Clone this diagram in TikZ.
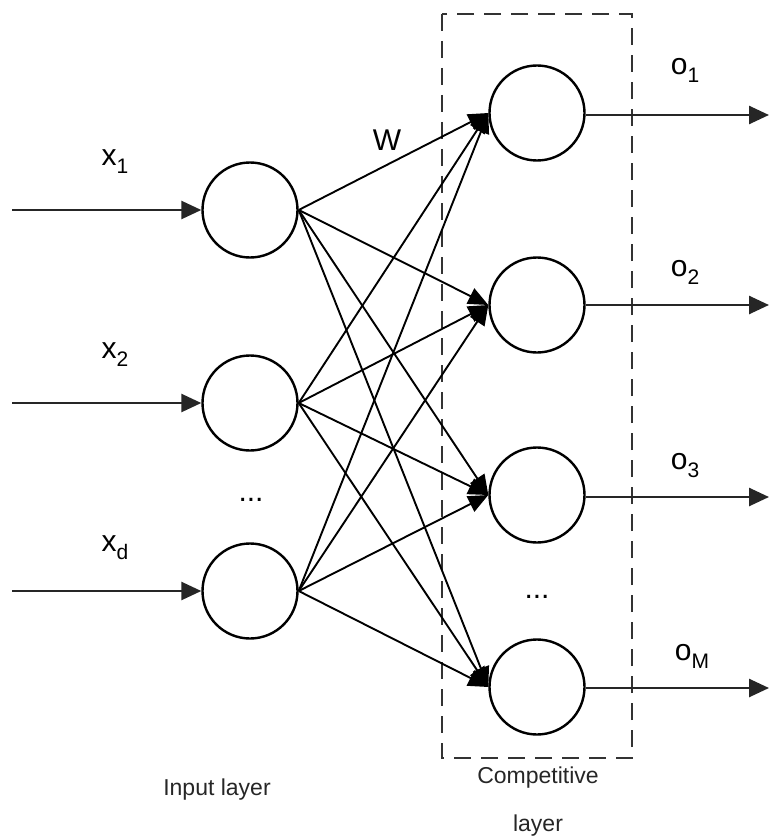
\documentclass[tikz,border=0pt]{standalone}
\usepackage{fontspec}
\setmainfont{Liberation Sans}
\usetikzlibrary{arrows.meta}
\newcommand{\lblsub}[2]{#1\raisebox{-8pt}{\fontsize{21}{21}\selectfont #2}}
\begin{document}
\begin{tikzpicture}[x=1pt,y=-1pt,
  neuron/.style={circle,draw=black,line width=2.4pt,minimum size=95pt,inner sep=0pt},
  inarrow/.style={draw=black!85,line width=2.6pt,-{Triangle[length=20pt,width=18pt]}},
  wedge/.style={draw=black,line width=1.9pt,-{Triangle[length=20pt,width=17pt]}},
  biglbl/.style={font=\fontsize{30}{34}\selectfont,inner sep=0pt},
  smalllbl/.style={font=\fontsize{23}{26}\selectfont,inner sep=0pt,text=black!85},
  dotlbl/.style={font=\fontsize{30}{30}\selectfont,inner sep=0pt}]
\useasboundingbox (0,0) rectangle (769,837);
% dashed competitive box
\draw[draw=black!80,line width=2.6pt,dash pattern=on 17pt off 10pt] (442,14) rectangle (632,758);
% input neurons
\node[neuron] (i1) at (250,210) {};
\node[neuron] (i2) at (250,403) {};
\node[neuron] (i3) at (250,591) {};
% output neurons
\node[neuron] (o1) at (537,113) {};
\node[neuron] (o2) at (537,305) {};
\node[neuron] (o3) at (537,495) {};
\node[neuron] (o4) at (537,687) {};
% input free ends
\coordinate (s1) at (12,210);
\coordinate (s2) at (12,403);
\coordinate (s3) at (12,591);
% output free ends
\coordinate (e1) at (769,115);
\coordinate (e2) at (769,305);
\coordinate (e3) at (769,497);
\coordinate (e4) at (769,688);
\foreach \k in {1,2,3}{\draw[inarrow] (s\k) -- (i\k.west);}
\foreach \k in {1,2,3,4}{\draw[inarrow] (o\k.east |- e\k) -- (e\k);}
% weights
\foreach \a in {1,2,3}{
  \foreach \b in {1,2,3,4}{
    \draw[wedge] (i\a.east) -- (o\b.west);
  }
}
% labels
\node[biglbl] (lx1) at (115,162) {\lblsub{x}{1}};
\node[biglbl] (lx2) at (115,355) {\lblsub{x}{2}};
\node[biglbl] (lxd) at (115,548) {\lblsub{x}{d}};
\node[biglbl] (lw) at (387,140) {W};
\node[biglbl] (lo1) at (685,70) {\lblsub{o}{1}};
\node[biglbl] (lo2) at (685,272) {\lblsub{o}{2}};
\node[biglbl] (lo3) at (685,466) {\lblsub{o}{3}};
\node[biglbl] (lo4) at (692,656) {\lblsub{o}{M}};
\node[dotlbl] (d1) at (251,500) {...};
\node[dotlbl] (d2) at (537,597) {...};
\node[smalllbl] (il) at (217,790) {Input layer};
\node[smalllbl] (cl) at (538,778) {Competitive};
\node[smalllbl] (cl2) at (538,826) {layer};
\end{tikzpicture}
\end{document}
